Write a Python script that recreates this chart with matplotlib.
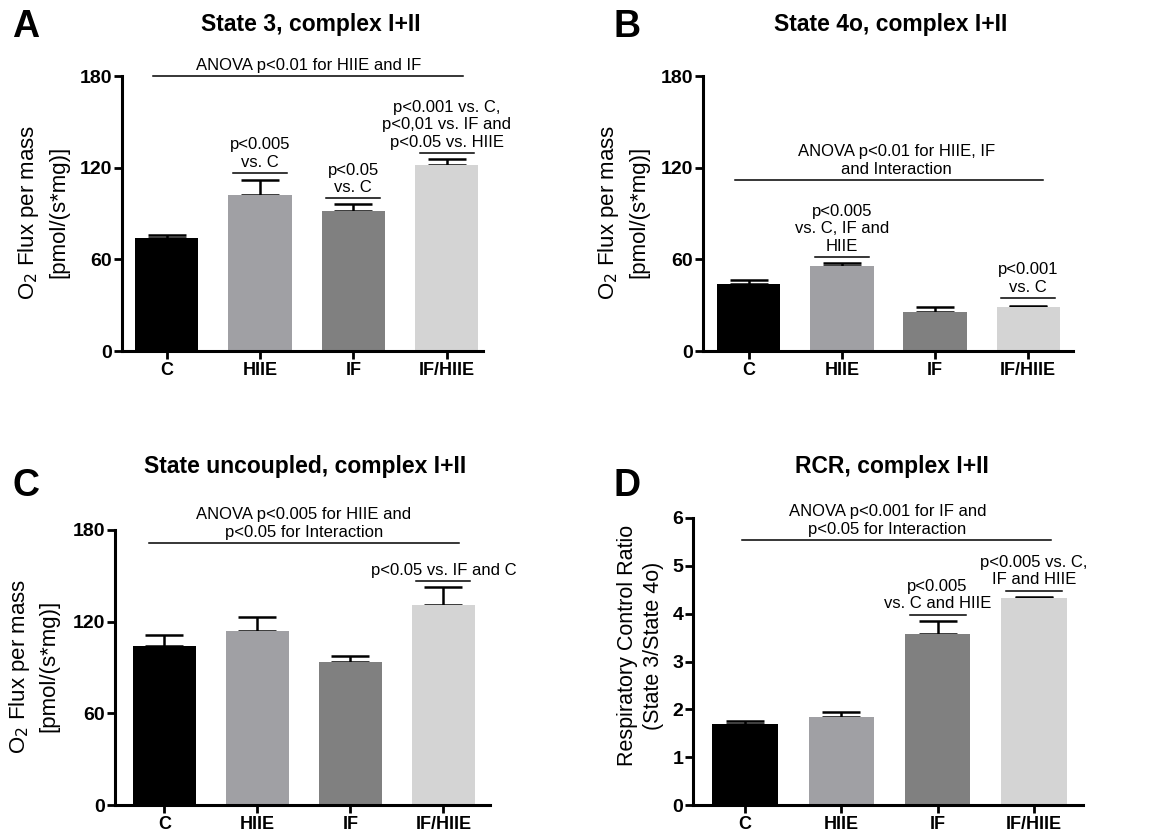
import numpy as np
import matplotlib
matplotlib.use("Agg")
import matplotlib.pyplot as plt

plt.rcParams["font.family"] = ["Liberation Sans", "DejaVu Sans"]

groups = ["C", "HIIE", "IF", "IF/HIIE"]
colors = ["#000000", "#a0a0a4", "#808080", "#d4d4d4"]

# panel values (mean, upper SEM)
a_mean = [74, 102, 91.5, 121.5]
a_err = [2, 10, 4.5, 4]
b_mean = [44, 55.6, 25.5, 28.8]
b_err = [2.5, 2, 3.3, 0.7]
c_mean = [104.3, 114, 93.3, 131]
c_err = [7.2, 9, 4.5, 11.8]
d_mean = [1.69, 1.84, 3.58, 4.33]
d_err = [0.07, 0.11, 0.27, 0.02]

# pairwise annotations: (bar index, line height, text)
a_sig = [(1, 116.5, "p<0.005\nvs. C"), (2, 100, "p<0.05\nvs. C"),
         (3, 129.6, "p<0.001 vs. C,\np<0,01 vs. IF and\np<0.05 vs. HIIE")]
b_sig = [(1, 61.5, "p<0.005\nvs. C, IF and\nHIIE"), (3, 34.7, "p<0.001\nvs. C")]
c_sig = [(3, 146.7, "p<0.05 vs. IF and C")]
d_sig = [(2, 3.98, "p<0.005\nvs. C and HIIE"), (3, 4.48, "p<0.005 vs. C,\nIF and HIIE")]

# ANOVA bar: (x0, x1, y, text x, text)
a_anova = (-0.15, 3.18, 180, 1.52, "ANOVA p<0.01 for HIIE and IF")
b_anova = (-0.15, 3.16, 112, 1.59, "ANOVA p<0.01 for HIIE, IF\nand Interaction")
c_anova = (-0.16, 3.17, 171.5, 1.5, "ANOVA p<0.005 for HIIE and\np<0.05 for Interaction")
d_anova = (-0.03, 3.18, 5.54, 1.48, "ANOVA p<0.001 for IF and\np<0.05 for Interaction")

W, H = 1162, 834
fig = plt.figure(figsize=(W / 100, H / 100), dpi=100)


def px_axes(l, t, r, b):
    return fig.add_axes([l / W, 1 - b / H, (r - l) / W, (b - t) / H])


def panel(ax, means, errs, sig, anova, ymax, ystep, xlim, ylabel, lab_xy, lab_fs, lab_ls):
    x = np.arange(len(groups))
    ax.bar(x, means, width=0.68, color=colors, zorder=2)
    ax.errorbar(x, means, yerr=[np.zeros(len(errs)), errs], fmt="none",
                ecolor="black", elinewidth=1.8, capsize=14, capthick=1.8, zorder=1)
    ax.set_xlim(*xlim)
    ax.set_ylim(0, ymax)
    ax.set_yticks(np.arange(0, ymax + ystep / 2, ystep))
    ax.set_xticks(x)
    ax.set_xticklabels(groups, fontsize=13, fontweight="bold")
    for t in ax.get_yticklabels():
        t.set_fontsize(14)
        t.set_fontweight("bold")
    ax.tick_params(axis="both", width=2, length=6, direction="out")
    ax.tick_params(axis="y", pad=1)
    ax.tick_params(axis="x", pad=2)
    for s in ["top", "right"]:
        ax.spines[s].set_visible(False)
    for s in ["left", "bottom"]:
        ax.spines[s].set_linewidth(2.2)
    ax.set_ylabel(ylabel, fontsize=lab_fs, linespacing=lab_ls)
    ax.yaxis.set_label_coords(*lab_xy)
    pad = ymax * 0.012
    for i, y, txt in sig:
        ax.plot([i - 0.29, i + 0.29], [y, y], color="black", lw=1.1, clip_on=False)
        ax.text(i, y + pad, txt, ha="center", va="bottom", fontsize=12,
                linespacing=1.2, clip_on=False)
    x0, x1, y, tx, txt = anova
    ax.plot([x0, x1], [y, y], color="black", lw=1.1, clip_on=False)
    ax.text(tx, y + pad, txt, ha="center", va="bottom", fontsize=12,
            linespacing=1.2, clip_on=False)


ylab = "O$_2$ Flux per mass\n[pmol/(s*mg)]"
axA = px_axes(122, 76, 483, 351)
panel(axA, a_mean, a_err, a_sig, a_anova, 180, 60, (-0.48, 3.39), ylab,
      (-0.145, 0.505), 16, 1.45)
axB = px_axes(703, 76, 1073, 351)
panel(axB, b_mean, b_err, b_sig, b_anova, 180, 60, (-0.49, 3.48), ylab,
      (-0.146, 0.505), 16, 1.45)
axC = px_axes(115, 530, 490, 805)
panel(axC, c_mean, c_err, c_sig, c_anova, 180, 60, (-0.53, 3.5), ylab,
      (-0.147, 0.505), 16, 1.45)
axD = px_axes(693, 518, 1083, 805)
panel(axD, d_mean, d_err, d_sig, d_anova, 6, 1, (-0.54, 3.51),
      "Respiratory Control Ratio\n(State 3/State 4o)", (-0.074, 0.555), 15.5, 1.35)

titles = [(311, 24, "State 3, complex I+II"), (891, 24, "State 4o, complex I+II"),
          (305, 466, "State uncoupled, complex I+II"), (892, 466, "RCR, complex I+II")]
for x, y, t in titles:
    fig.text(x / W, 1 - y / H, t, ha="center", va="center", fontsize=16.5, fontweight="bold")

letters = [(12, 27, "A"), (614, 27, "B"), (12, 486, "C"), (614, 486, "D")]
for x, y, t in letters:
    fig.text(x / W, 1 - y / H, t, ha="left", va="center", fontsize=27, fontweight="bold")

fig.savefig("out.png", dpi=100)
